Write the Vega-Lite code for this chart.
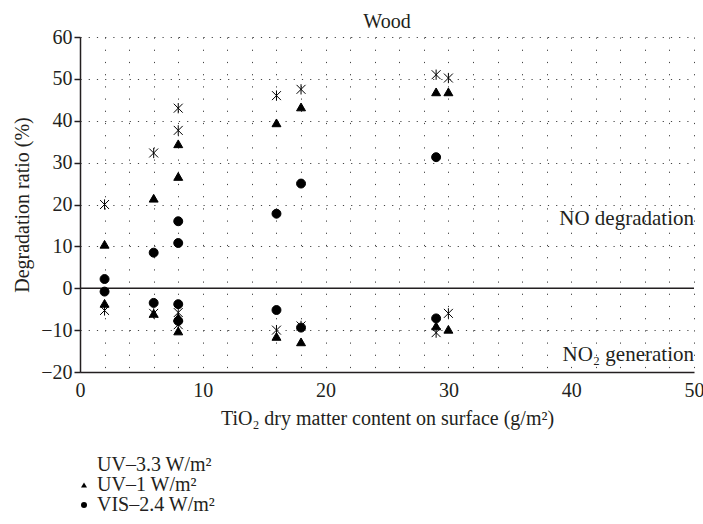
{
  "$schema": "https://vega.github.io/schema/vega-lite/v6.json",
  "width": 614,
  "height": 335,
  "autosize": {"type": "none"},
  "padding": {"left": 80, "top": 37, "right": 9, "bottom": 152},
  "background": "white",
  "config": {
    "view": {"stroke": null},
    "font": "Liberation Serif",
    "axis": {"labelFont": "Liberation Serif", "titleFont": "Liberation Serif", "labelColor": "#231f20", "titleColor": "#231f20", "titleFontWeight": "normal"}
  },
  "resolve": {"axis": {"x": "independent"}},
  "datasets": {
    "pts": [
      {"x": 2, "y": 20, "s": "UV–3.3 W/m²"},
      {"x": 2, "y": -5.3, "s": "UV–3.3 W/m²"},
      {"x": 6, "y": 32.3, "s": "UV–3.3 W/m²"},
      {"x": 6, "y": -6, "s": "UV–3.3 W/m²"},
      {"x": 8, "y": 43, "s": "UV–3.3 W/m²"},
      {"x": 8, "y": 37.7, "s": "UV–3.3 W/m²"},
      {"x": 8, "y": -5.8, "s": "UV–3.3 W/m²"},
      {"x": 8, "y": -8.7, "s": "UV–3.3 W/m²"},
      {"x": 16, "y": 46, "s": "UV–3.3 W/m²"},
      {"x": 16, "y": -10, "s": "UV–3.3 W/m²"},
      {"x": 18, "y": 47.5, "s": "UV–3.3 W/m²"},
      {"x": 18, "y": -9, "s": "UV–3.3 W/m²"},
      {"x": 29, "y": 51, "s": "UV–3.3 W/m²"},
      {"x": 29, "y": -10.6, "s": "UV–3.3 W/m²"},
      {"x": 30, "y": 50.2, "s": "UV–3.3 W/m²"},
      {"x": 30, "y": -6, "s": "UV–3.3 W/m²"},
      {"x": 2, "y": 10.5, "s": "UV–1 W/m²"},
      {"x": 2, "y": -3.6, "s": "UV–1 W/m²"},
      {"x": 6, "y": 21.5, "s": "UV–1 W/m²"},
      {"x": 6, "y": -6, "s": "UV–1 W/m²"},
      {"x": 8, "y": 34.5, "s": "UV–1 W/m²"},
      {"x": 8, "y": 26.7, "s": "UV–1 W/m²"},
      {"x": 8, "y": -7, "s": "UV–1 W/m²"},
      {"x": 8, "y": -10.2, "s": "UV–1 W/m²"},
      {"x": 16, "y": 39.5, "s": "UV–1 W/m²"},
      {"x": 16, "y": -11.5, "s": "UV–1 W/m²"},
      {"x": 18, "y": 43.3, "s": "UV–1 W/m²"},
      {"x": 18, "y": -12.8, "s": "UV–1 W/m²"},
      {"x": 29, "y": 46.9, "s": "UV–1 W/m²"},
      {"x": 29, "y": -9, "s": "UV–1 W/m²"},
      {"x": 30, "y": 46.9, "s": "UV–1 W/m²"},
      {"x": 30, "y": -9.8, "s": "UV–1 W/m²"},
      {"x": 2, "y": 2.2, "s": "VIS–2.4 W/m²"},
      {"x": 2, "y": -0.8, "s": "VIS–2.4 W/m²"},
      {"x": 6, "y": 8.5, "s": "VIS–2.4 W/m²"},
      {"x": 6, "y": -3.5, "s": "VIS–2.4 W/m²"},
      {"x": 8, "y": 16, "s": "VIS–2.4 W/m²"},
      {"x": 8, "y": 10.8, "s": "VIS–2.4 W/m²"},
      {"x": 8, "y": -3.8, "s": "VIS–2.4 W/m²"},
      {"x": 8, "y": -7.8, "s": "VIS–2.4 W/m²"},
      {"x": 16, "y": 17.8, "s": "VIS–2.4 W/m²"},
      {"x": 16, "y": -5.2, "s": "VIS–2.4 W/m²"},
      {"x": 18, "y": 25, "s": "VIS–2.4 W/m²"},
      {"x": 18, "y": -9.4, "s": "VIS–2.4 W/m²"},
      {"x": 29, "y": 31.3, "s": "VIS–2.4 W/m²"},
      {"x": 29, "y": -7.2, "s": "VIS–2.4 W/m²"}
    ],
    "notes": [
      {"x": 50, "y": 15, "t": "NO degradation"},
      {"x": 50, "y": -17.4, "t": "NO₂ generation"}
    ],
    "heading": [
      {"x": 25, "y": 60, "t": "Wood"}
    ]
  },
  "layer": [
    {
      "data": {"values": [{"v": 0}]},
      "mark": {"type": "rule", "color": "#231f20", "strokeWidth": 1.5},
      "encoding": {"y": {"field": "v", "type": "quantitative", "scale": {"domain": [-20, 60], "nice": false}}}
    },
    {
      "data": {"name": "pts"},
      "mark": {"type": "point", "filled": true, "fill": "black", "stroke": "black", "strokeWidth": 1, "size": 80, "opacity": 1},
      "encoding": {
        "x": {
          "field": "x", "type": "quantitative",
          "scale": {"domain": [0, 50], "nice": false, "zero": false},
          "axis": {
            "orient": "bottom",
            "values": [0,2,4,6,8,10,12,14,16,18,20,22,24,26,28,30,32,34,36,38,40,42,44,46,48,50],
            "labels": false, "ticks": false, "domain": false, "title": null,
            "grid": true, "gridColor": "#444", "gridWidth": 1, "gridDash": [1.2, 11]
          }
        },
        "y": {
          "field": "y", "type": "quantitative",
          "scale": {"domain": [-20, 60], "nice": false},
          "axis": {
            "values": [-20,-10,0,10,20,30,40,50,60],
            "labelOverlap": false,
            "tickSize": 6, "tickColor": "#231f20", "tickWidth": 1.5, "labelPadding": 2, "labelFontSize": 20,
            "domainColor": "#231f20", "domainWidth": 1.5, "labelFlush": false,
            "grid": true, "gridColor": "#444", "gridWidth": 1, "gridDash": [1.2, 7],
            "title": "Degradation ratio (%)", "titleFontSize": 20, "titlePadding": 8
          }
        },
        "shape": {
          "field": "s", "type": "nominal",
          "scale": {"domain": ["UV–3.3 W/m²", "UV–1 W/m²", "VIS–2.4 W/m²"], "range": ["M-1,-1L1,1M-1,1L1,-1M0,-1.15L0,1.15", "triangle-up", "circle"]},
          "legend": {
            "orient": "none", "legendX": -6, "legendY": 418, "title": null,
            "labelFontSize": 20, "labelFont": "Liberation Serif", "labelColor": "#231f20",
            "symbolSize": 36, "symbolFillColor": "black", "symbolStrokeColor": "black", "symbolStrokeWidth": 1,
            "rowPadding": -2, "labelOffset": 3
          }
        }
      }
    },
    {
      "data": {"name": "notes"},
      "mark": {"type": "text", "align": "right", "baseline": "alphabetic", "fontSize": 21, "font": "Liberation Serif", "color": "#231f20"},
      "encoding": {
        "x": {
          "field": "x", "type": "quantitative",
          "axis": {
            "orient": "bottom",
            "values": [0, 10, 20, 30, 40, 50],
            "labelOverlap": false,
            "tickSize": 0, "labelPadding": 8, "labelFontSize": 20, "labelFlush": false,
            "domainColor": "#231f20", "domainWidth": 1.5, "grid": false,
            "title": "TiO₂ dry matter content on surface (g/m²)", "titleFontSize": 20, "titlePadding": 8
          }
        },
        "y": {"field": "y", "type": "quantitative"},
        "text": {"field": "t"}
      }
    },
    {
      "data": {"name": "heading"},
      "mark": {"type": "text", "align": "center", "baseline": "alphabetic", "fontSize": 20, "font": "Liberation Serif", "color": "#231f20", "dy": -9},
      "encoding": {
        "x": {"field": "x", "type": "quantitative", "axis": null},
        "y": {"field": "y", "type": "quantitative"},
        "text": {"field": "t"}
      }
    }
  ]
}
